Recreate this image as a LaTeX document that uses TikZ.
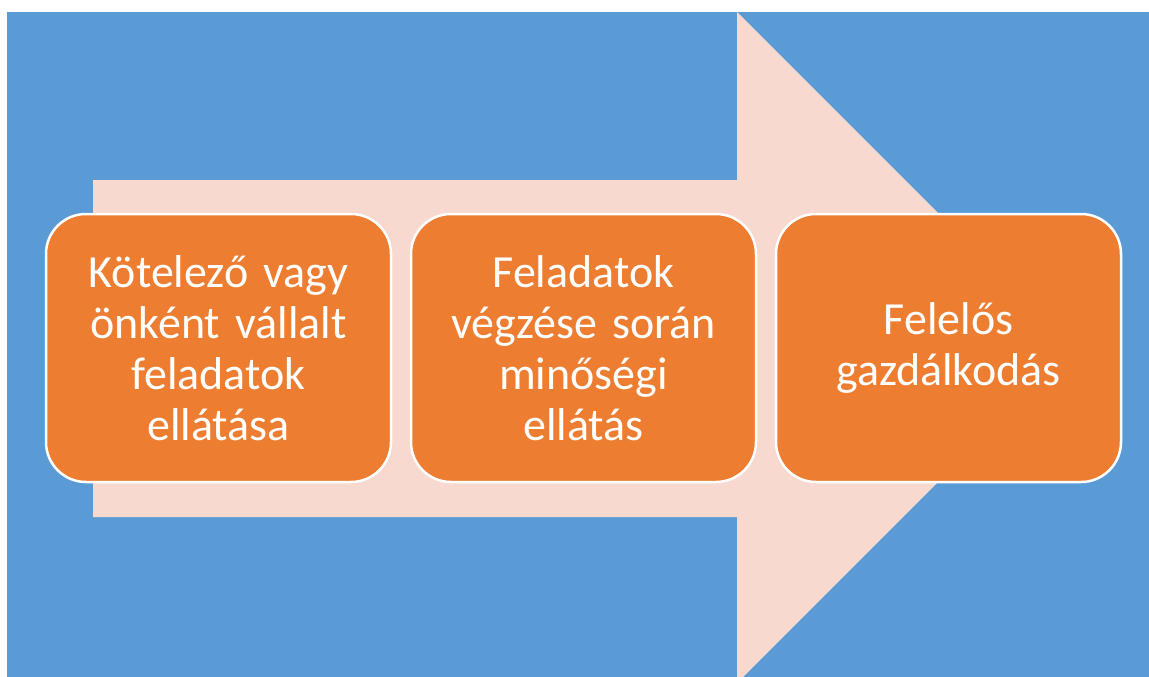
\documentclass[tikz,border=0pt]{standalone}
\usepackage{fontspec}
\setmainfont{Carlito}
\usetikzlibrary{positioning}

\definecolor{bgblue}{HTML}{5B9BD5}
\definecolor{arrowpink}{HTML}{F8D9CF}
\definecolor{boxorange}{HTML}{ED7D31}

\tikzset{
  stepbox/.style={rectangle, rounded corners=40pt, fill=boxorange, draw=white,
    line width=2.5pt, minimum width=345pt, minimum height=268pt,
    text width=320pt, align=center, text=white,
    font=\fontsize{46}{51}\selectfont},
}

\begin{document}
\begin{tikzpicture}[x=1pt,y=-1pt]

  \useasboundingbox (0,0) rectangle (1149,677);

  % Background and arrow

  \fill[bgblue] (7,12) rectangle (1149,677);
  \fill[arrowpink] (93,180) -- (737,180) -- (737,12) -- (1072.5,347.5)
    -- (743,677) -- (737,677) -- (737,517) -- (93,517) -- cycle;

  % Nodes

  \node[stepbox] (duty) at (218.5,348) {Kötelező vagy\\önként vállalt\\feladatok\\ellátása};
  \node[stepbox,right=17.5 of duty] (quality) {Feladatok\\végzése során\\minőségi\\ellátás};
  \node[stepbox,right=17.5 of quality] (budget) {Felelős\\gazdálkodás};

\end{tikzpicture}
\end{document}
